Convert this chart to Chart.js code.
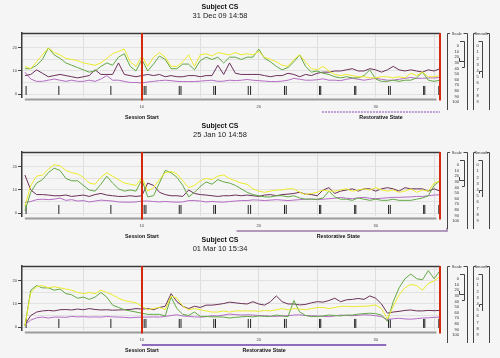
<!DOCTYPE html>
<html lang="en">
<head>
<meta charset="UTF-8">
<title>Subject CS</title>
<script src="https://cdn.jsdelivr.net/npm/chart.js"></script>
<style>
  body { margin: 0; background: #f5f5f5; }
  #page { position: relative; width: 500px; height: 358px; overflow: hidden; }
  .panel { position: absolute; left: 0; width: 500px; height: 120px; }
</style>
</head>
<body>
<div id="page">
  <div class="panel" style="top:0px"><canvas id="c0" width="500" height="120"></canvas></div>
  <div class="panel" style="top:119px"><canvas id="c1" width="500" height="120"></canvas></div>
  <div class="panel" style="top:233px"><canvas id="c2" width="500" height="120"></canvas></div>
</div>
<script>
// --- data (one sample every 0.5 on the x axis) ---
const xStep = 0.5;
const titles = ['Subject CS', 'Subject CS', 'Subject CS'];
const dates = ['31 Dec 09 14:58', '25 Jan 10 14:58', '01 Mar 10 15:34'];
const xTickLabels = [10, 20, 30];
const yTickLabels = [0, 10, 20];
const scaleLabels = ['0', '10', '20', '30', '40', '50', '60', '70', '80', '90', '100'];
const smoothLabels = ['0', '1', '2', '3', '4', '5', '6', '7', '8', '9'];
const eventTimes = [0.1, 2.9, 7.35, 10.2, 10.35, 13.2, 13.35, 16.15, 16.3, 19.1, 19.3,
                    22.2, 22.35, 25.2, 25.3, 28.2, 28.3, 31.1, 31.25, 34.1, 34.2, 35.4];
const sessionStart = 10;
const sessionEnd = 35.5;
const restStart = [25.4, 18.1, 10];
const restEnd = [35.5, 36.1, 30.9];

// panel 1
const yellow1 = [12,11,14,17,20,18,17,15.5,15,14.5,13.5,13,12.5,13.5,15.5,17.5,18.5,19.5,14,12,
  16.5,12,16,18,16,12,12,14,17,12,17,17.5,16.5,18,17.5,17,18,17,17.5,17,
  18.5,16,15,14,12.5,12,15,17,14,11,10.5,12,10,8.5,8,8.5,8,7.5,7.5,7,
  7,7.5,7.5,7,7.5,7,9,8,9.5,7.5,7.5,8];
const green1 = [11,11,12.5,15,20,17,15.5,13.5,12.5,11.5,10.5,9.5,10,12,13.5,12.5,16,17.5,12,10,
  15,10,13,16.5,15,11,11,13,13,10.5,14.5,16,15,16,13.5,16,16,15,16,16,
  19.5,15.5,14,12,10.5,11.5,14,17,12,9.5,10,9,8.5,7.5,7,7.5,7,7,8,10.5,
  6.5,5.5,5.5,6,5.5,6,6,7,9.5,6,5.5,6];
const maroon1 = [8,8.5,10.5,9,7.5,8,8.5,8,7.5,7,7.5,8,10.5,8.5,8.5,8.5,13.5,8.5,8,7.5,
  8,8.5,8,8.5,7.5,8,7.5,7.5,8,8,7.5,8,8,12.5,8.5,13.5,9,8.5,8.5,8.5,
  8.5,8,7.5,8,8,9,8.5,7.5,8.5,8,9,9.5,9.5,10,10,10.5,11,10,10,11,
  10.5,9.5,10.5,12,10.5,10,10.5,10,9.5,10.5,10,11];
const lilac1 = [9.5,6.5,5.5,5.5,6,6.5,6,5.5,6,5.5,5.5,6,5.5,6.5,8,6,6,5.5,5,5,
  4.8,5.2,5.5,5.8,6,5.8,5.5,5.4,5.4,5.4,5.6,5.8,6,5.5,5.6,6,5.8,6,6.3,6,
  5.8,5.6,5.4,5.4,5.6,6,6.8,6.4,6,6,6.2,6.6,6,6,5.8,6.4,6.8,6.4,6,6.4,
  6.8,6.4,6,6,6.4,6.8,7.2,6.8,6.8,7,7,7.2];

// panel 2
const yellow2 = [3,12,16,16.5,19,21,20.5,18.5,17.5,17,15.5,13,12.5,15.5,17.5,16,14.5,13,12.5,12,
  15.5,9.5,11,14.5,17.5,18,17,14,11,12,14,15,14.5,16,16.5,15,14,13,12.5,10.5,
  9.5,9,9.5,10,10,10.5,10.5,9,8,8.5,9,10,9.5,9.5,10,10.5,9.5,10,10.5,10,
  11,10,9.5,10,9,9.5,10.5,9,10,9.5,13,14];
const green2 = [1,9,13,14.5,17.5,19.5,18.5,15,14,14,12,10,9.5,12.5,16,13,10.5,9.5,10,9.5,
  14.5,7,7.5,13,18.5,17.5,15.5,12,7,9,11.5,13.5,12.5,14.5,13.5,13,12,10.5,9,8,
  7.5,7,7,7.5,7.5,7,7.5,6.5,6,6,6,6.5,9.5,7,6,6,5.5,6.5,6,5.5,
  6,5.5,5.5,6,5.5,5.5,5.5,6,6.5,7.5,12,14];
const maroon2 = [16.5,10,8,8,7.8,7.5,7.5,7.8,7.2,7.5,7.8,7.2,8,8.5,7.8,7.5,7.2,7.2,7.5,7.2,
  7.5,13,12,9,8,7.5,7.5,7.2,10,8.5,8,7.8,7.5,7.2,7.5,7.5,7.8,7.5,7.8,7.5,
  7.2,7.8,8,7.5,8,8.2,8.5,9,8.2,8,7.5,10,11,8.5,9.5,10,10.5,9.5,10.5,10.5,
  9.5,10.5,11,10.5,9.5,11,10.5,10.5,10.5,9.5,10.5,9.5];
const lilac2 = [4.5,5,5.8,6,5.8,6,6.5,5.5,5.8,5.2,5.4,4.8,5.2,5.6,5.4,5.2,4.8,4.7,4.7,4.8,
  5.2,5.2,5,4.8,5,4.8,4.7,4.8,5.4,5.4,5.2,4.8,5,4.8,4.7,5,5.2,5.4,5.4,5.7,
  5.6,5.4,5.6,5.8,5.6,5.4,5.6,5.8,6,6.1,5.8,6,6.2,6.4,6.8,6.4,6.2,6.6,6.8,6.4,
  6.2,6.4,6.6,6.8,6.8,6.9,7,7.2,7.2,7.5,7.8,7.9];

// panel 3
const yellow3 = [0.5,15,17.5,18,17,17.5,17,16.5,16,15,14.5,15,14.5,16,15,14,12.5,11.5,11,10.5,
  9,7.5,8,8.5,7.5,13.5,12.5,9,7.5,8,7.5,7,6.5,6.5,7,6.5,7,7,7,7,
  6.8,7.2,7,7.5,8,7.5,8,7.8,7.5,8,8.5,8.5,8,8.5,9,9,8.8,9,9,9.2,
  9.6,8,3.5,9,14,17,18.5,18,16,19,20,22];
const green3 = [0.5,16,18,17,17,16,16.5,14.5,14,12.5,13,12,13,15,13,9.5,8.5,7.5,7,6.5,
  6,5.5,5.5,5.5,4.8,13,8,5.5,5,6.5,4.6,4.6,4.4,4.4,4.3,3.9,4.2,4.4,4.6,4.4,
  4.8,4.6,4.6,5.2,4.8,4.5,11.5,6.5,5,4.5,4.6,4.8,5.2,5,4.8,5.2,5.2,5.6,5.8,6,
  5.8,5.2,2.5,11,17,21,23,21,20.5,24.5,21,24.5];
const maroon3 = [1,5,6.5,7,7.2,7,7.5,7.6,7.4,7.8,7.5,8,7.6,7.4,7.5,7.3,7.4,7.5,7.6,8,
  7.8,8,7.5,8.5,9,14.5,11,9,8,9,8.5,9.5,9.5,9.8,10.2,10.8,10.5,10.2,10,11,
  10,9.5,11,13.5,11,10,10,9.6,9.8,10.5,11,10.8,11.5,12.5,11,11.8,12,12.4,12,13.5,
  12.5,10,6,6.5,6.8,7.2,7.4,7,7,7.2,7.1,7.2];
const lilac3 = [1,3,4,4.3,3.9,4.3,4.3,4.2,4.6,4.4,4.5,4.3,4.4,4.3,4.6,4.4,4.3,4.2,4,4.2,
  4.3,4.3,4.4,4.3,4.6,5,5.3,4.8,4.6,4.4,4.3,4.5,4.9,4.8,5.2,5.6,5.4,5.2,5.3,5.2,
  5,4.9,4.7,4.6,4.8,4.9,5.2,5.3,5,4.9,4.8,4.6,4.5,4.8,5.2,5,4.9,5.1,5.3,5.2,
  4.9,4.5,3.2,3.6,3.8,3.5,3.4,3.6,3.9,4,4.2,4.3];

const panelSeries = [
  [yellow1, green1, maroon1, lilac1],
  [yellow2, green2, maroon2, lilac2],
  [yellow3, green3, maroon3, lilac3]
];
const seriesColors = ['#ecea2a', '#62a843', '#6c2f58', '#b46cc4'];
const restColors = ['#8a4cb0', '#9c7aa8', '#6a3fa8'];

Chart.defaults.font.family = '"Liberation Sans", Arial, sans-serif';

function toPoints(values) {
  return values.map((v, i) => ({ x: i * xStep, y: v }));
}

function eventPoints() {
  const pts = [];
  eventTimes.forEach(t => {
    pts.push({ x: t, y: -0.4 }, { x: t, y: 3.5 }, { x: t, y: null });
  });
  return pts;
}

function line(ctx, pts, color, width, dash) {
  ctx.beginPath();
  ctx.strokeStyle = color;
  ctx.lineWidth = width;
  ctx.setLineDash(dash || []);
  ctx.moveTo(pts[0][0], pts[0][1]);
  for (let i = 1; i < pts.length; i++) ctx.lineTo(pts[i][0], pts[i][1]);
  ctx.stroke();
  ctx.setLineDash([]);
}

// the two slider boxes on the right
function drawWidgets(ctx) {
  const c = '#444';
  ctx.font = '4px "Liberation Sans", Arial, sans-serif';
  ctx.fillStyle = '#333';
  ctx.textBaseline = 'middle';
  // Scale
  line(ctx, [[450, 33.5], [447.5, 33.5], [447.5, 110]], c, 1);
  line(ctx, [[463.5, 33.5], [467.5, 33.5], [467.5, 110]], c, 1);
  ctx.textAlign = 'center';
  ctx.fillText('Scale', 456.8, 34);
  ctx.textAlign = 'right';
  scaleLabels.forEach((s, i) => ctx.fillText(s, 459, 46 + i * 5.6));
  line(ctx, [[460, 41.5], [464.5, 41.5], [464.5, 67.5], [462, 67.5]], c, 1);
  line(ctx, [[459.5, 58], [459.5, 61.5], [464.5, 61.5]], c, 1);
  // Smooth
  line(ctx, [[475.5, 33.5], [473.5, 33.5], [473.5, 110]], c, 1);
  line(ctx, [[487, 33.5], [489.5, 33.5], [489.5, 110]], c, 1);
  ctx.textAlign = 'center';
  ctx.fillText('Smooth', 481.3, 34);
  smoothLabels.forEach((s, i) => ctx.fillText(s, 477.5, 46 + i * 6.2));
  line(ctx, [[478.5, 41.5], [482.5, 41.5], [482.5, 78]], c, 1);
  line(ctx, [[479.5, 74], [479.5, 71.5], [482.5, 71.5]], c, 1);
}

const decorations = {
  id: 'decorations',
  afterDatasetsDraw(chart, args, opts) {
    const { ctx, chartArea: a, scales: { x } } = chart;
    ctx.save();
    // frame top
    line(ctx, [[a.left, a.top + 0.5], [a.right, a.top + 0.5]], '#3a3a3a', 1.5);
    // axis bar under the plot
    line(ctx, [[x.getPixelForValue(0), a.bottom + 2.5], [x.getPixelForValue(35.2), a.bottom + 2.5]], '#9c9c9c', 2);
    // session markers
    [sessionStart, sessionEnd].forEach(v => {
      const px = Math.round(x.getPixelForValue(v));
      line(ctx, [[px, a.top], [px, a.bottom + 3.5]], '#d2290f', 2);
    });
    // restorative state bar
    const p = opts.panel;
    const x0 = x.getPixelForValue(restStart[p]);
    const x1 = x.getPixelForValue(restEnd[p]);
    const by = a.bottom + 15;
    if (p === 0) {
      line(ctx, [[x0, by], [x1, by]], restColors[p], 1.2, [2, 1]);
    } else if (p === 1) {
      line(ctx, [[x0, by], [x1, by], [x1, by - 3]], restColors[p], 1.5);
    } else {
      line(ctx, [[x0, by], [x1, by]], restColors[p], 1.5);
    }
    ctx.fillStyle = '#111';
    ctx.font = 'bold 5.3px "Liberation Sans", Arial, sans-serif';
    ctx.textAlign = 'center';
    ctx.textBaseline = 'middle';
    ctx.fillText('Session Start', x.getPixelForValue(sessionStart), a.bottom + 20.5);
    ctx.fillText('Restorative State', (x0 + Math.min(x1, a.right)) / 2, a.bottom + 20.5);
    drawWidgets(ctx);
    ctx.restore();
  }
};

function makePanel(p) {
  const ctx = document.getElementById('c' + p).getContext('2d');
  const datasets = panelSeries[p].map((vals, k) => ({
    data: toPoints(vals),
    borderColor: seriesColors[k],
    borderWidth: 1,
    pointRadius: 0,
    tension: 0
  }));
  datasets.push({
    data: eventPoints(),
    borderColor: '#222',
    borderWidth: 1,
    pointRadius: 0,
    spanGaps: false
  });
  return new Chart(ctx, {
    type: 'line',
    data: { datasets: datasets },
    plugins: [decorations],
    options: {
      responsive: false,
      animation: false,
      events: [],
      layout: { padding: { left: 0, right: 60, top: 0, bottom: 0 } },
      plugins: {
        legend: { display: false },
        tooltip: { enabled: false },
        decorations: { panel: p },
        title: {
          display: true,
          text: titles[p],
          color: '#111',
          font: { size: 7, weight: 'bold' },
          padding: { top: 3, bottom: 0 }
        },
        subtitle: {
          display: true,
          text: dates[p],
          color: '#222',
          font: { size: 7.5 },
          padding: { top: 0, bottom: 12.6 }
        }
      },
      scales: {
        x: {
          type: 'linear',
          min: -0.25,
          max: 35.5,
          afterBuildTicks: s => { s.ticks = [5, 10, 15, 20, 25, 30, 35].map(v => ({ value: v })); },
          afterFit: s => { s.height = 23; },
          border: { display: false },
          grid: { color: '#dedede', drawTicks: false },
          ticks: {
            autoSkip: false,
            maxRotation: 0,
            padding: 7,
            color: '#444',
            font: { size: 4 },
            callback: v => xTickLabels.includes(v) ? String(v) : ''
          }
        },
        y: {
          min: -1.3,
          max: 26.5,
          afterBuildTicks: s => { s.ticks = [0, 5, 10, 15, 20, 25].map(v => ({ value: v })); },
          afterFit: s => { s.width = 22; },
          border: { color: '#3a3a3a', width: 1.5 },
          grid: {
            color: '#e2e2e2',
            tickLength: 4,
            tickColor: c => (c.tick && yTickLabels.includes(c.tick.value)) ? '#444' : 'rgba(0,0,0,0)'
          },
          ticks: {
            padding: 1,
            color: '#444',
            font: { size: 4 },
            callback: v => yTickLabels.includes(v) ? String(v) : ''
          }
        }
      }
    }
  });
}

[0, 1, 2].forEach(makePanel);
</script>
</body>
</html>
